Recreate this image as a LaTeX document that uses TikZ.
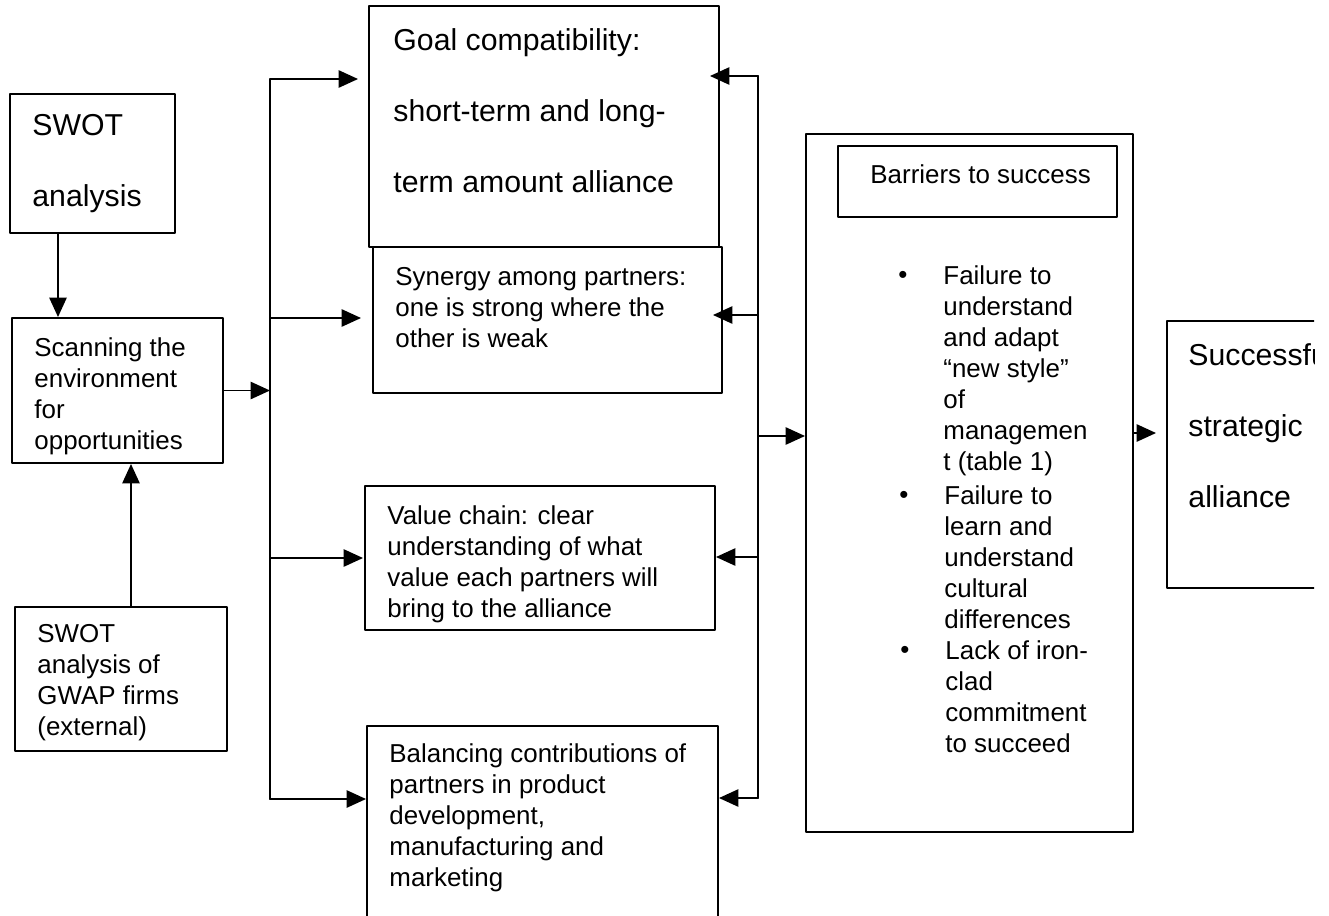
\documentclass[tikz,border=0pt]{standalone}
\usepackage{fontspec}
\setmainfont{Liberation Sans}
\usetikzlibrary{arrows.meta,fit}

\tikzset{
  box/.style={draw, line width=0.9pt, inner sep=0pt},
  txt/.style={anchor=north west, align=left, inner sep=0pt,
    font=\fontsize{12}{14.4}\selectfont},
  bigtxt/.style={txt, font=\fontsize{14}{33}\selectfont},
  arr/.style={-{Triangle[length=9pt,width=8pt]}, line width=0.9pt},
}

\begin{document}
\begin{tikzpicture}[x=0.463pt,y=-0.463pt,line cap=round,line join=round]
  \useasboundingbox (0,0) rectangle (1329,915);
  \clip (0,0) rectangle (1314,915);

  % left column
  \node[box, fit={(10,94) (175,233)}] (swot) {};
  \node[bigtxt] (swott) at (32,114) {SWOT\\analysis};
  \node[box, fit={(12,318) (223,463)}] (scan) {};
  \node[txt] (scant) at (34,337) {Scanning the\\environment\\for\\opportunities};
  \node[box, fit={(15,607) (227,751)}] (ext) {};
  \node[txt] (extt) at (37,624) {SWOT\\analysis of\\GWAP firms\\(external)};

  % middle column
  \node[box, fit={(369,6) (719,247)}] (goal) {};
  \node[bigtxt] (goalt) at (393,28) {Goal compatibility:\\short-term and long-\\term amount alliance};
  \node[box, fit={(373,247) (722,393)}] (syn) {};
  \node[txt] (synt) at (395,267) {Synergy among partners:\\one is strong where the\\other is weak};
  \node[box, fit={(365,486) (715,630)}] (val) {};
  \node[txt] (valt) at (387,505) {Value chain: clear\\understanding of what\\value each partners will\\bring to the alliance};
  \node[box, fit={(367,726) (718,940)}] (bal) {};
  \node[txt] (balt) at (389,743) {Balancing contributions of\\partners in product\\development,\\manufacturing and\\marketing};

  % barriers
  \node[box, fit={(806,134) (1133,832)}] (bar) {};
  \node[box, fit={(838,146) (1117,217)}] (bartitle) {};
  \node[txt] (bartitlet) at (870,164) {Barriers to success};
  \node[txt, anchor=center] (b1) at (903,277) {•};
  \node[txt] (item1) at (943,265) {Failure to\\understand\\and adapt\\“new style”\\of\\managemen\\t (table 1)};
  \node[txt, anchor=center] (b2) at (904,497) {•};
  \node[txt] (item2) at (944,485) {Failure to\\learn and\\understand\\cultural\\differences};
  \node[txt, anchor=center] (b3) at (905,652) {•};
  \node[txt] (item3) at (945,640) {Lack of iron-\\clad\\commitment\\to succeed};

  % outcome
  \node[box, fit={(1167,321) (1340,588)}] (succ) {};
  \node[bigtxt] (succt) at (1188,343) {Successful\\strategic\\alliance};

  \coordinate (lt) at (270,0);
  \coordinate (rt) at (758,0);

  \draw[arr] (swot.south -| 58,0) -- (scan.north -| 58,0);
  \draw[arr] (ext.north -| 131,0) -- (scan.south -| 131,0);
  \draw[arr] (scan.east) -- (scan.east -| lt);

  \draw[line width=0.9pt] (lt |- 0,79) -- (lt |- 0,799);
  \foreach \b/\y/\s in {goal/79/10, syn/318/11, val/558/1, bal/799/0}
    \draw[arr, shorten >=\s*0.463pt] (lt |- 0,\y) -- (\b.west |- 0,\y);

  \draw[line width=0.9pt] (rt |- 0,76) -- (rt |- 0,798);
  \foreach \b/\y/\s in {goal/76/-10, syn/315/-10, val/557/0, bal/798/0}
    \draw[arr, shorten >=\s*0.463pt] (rt |- 0,\y) -- (\b.east |- 0,\y);

  \draw[arr] (rt |- 0,436) -- (bar.west |- 0,436);
  \draw[arr, shorten >=10*0.463pt] (bar.east |- 0,433) -- (succ.west |- 0,433);
\end{tikzpicture}
\end{document}
